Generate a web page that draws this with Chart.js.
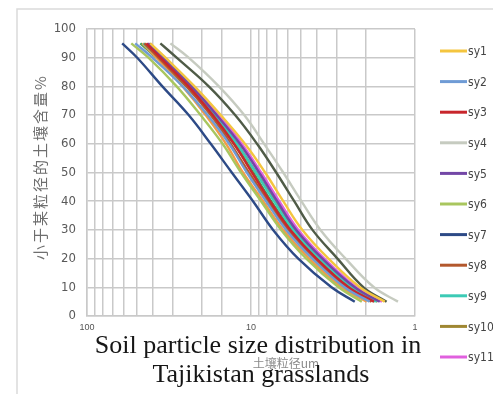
<!DOCTYPE html>
<html>
<head>
<meta charset="utf-8">
<script src="https://cdn.jsdelivr.net/npm/chart.js@4.4.1/dist/chart.umd.min.js"></script>
<style>
  html, body { margin: 0; padding: 0; background: #fff; }
  #wrap { width: 493px; height: 394px; }
</style>
</head>
<body>
<div id="wrap"><canvas id="chart" width="493" height="394"></canvas></div>
<script>
/**
 * Data: percentage of soil finer than a given particle size (um).
 */
const finerLevels = [95, 90, 80, 70, 60, 50, 40, 30, 20, 10, 5];

const sy1 = [41.1, 33.2, 22.1, 15.3, 10.9, 8.20, 6.36, 4.86, 3.37, 2.17, 1.53];
const sy2 = [50.8, 39.9, 26.1, 18.4, 13.6, 10.6, 8.09, 6.10, 4.22, 2.69, 1.89];
const sy3 = [43.5, 35.7, 24.0, 17.1, 12.7, 9.86, 7.65, 5.76, 3.99, 2.54, 1.78];
const sy4 = [31.0, 24.0, 15.7, 11.0, 8.32, 6.36, 4.93, 3.77, 2.65, 1.78, 1.27];
const sy5 = [42.8, 34.7, 23.0, 16.2, 11.7, 8.93, 6.93, 5.30, 3.67, 2.33, 1.64];
const sy6 = [53.7, 42.2, 28.4, 20.3, 14.9, 11.5, 8.68, 6.55, 4.60, 2.92, 2.11];
const sy7 = [61.0, 49.4, 34.7, 24.0, 17.6, 13.1, 9.72, 7.33, 5.15, 3.23, 2.33];
const sy8 = [44.7, 36.7, 24.7, 17.6, 13.3, 10.3, 7.86, 5.93, 4.11, 2.61, 1.84];
const sy9 = [45.3, 36.2, 23.7, 16.6, 12.2, 9.32, 7.23, 5.52, 3.83, 2.43, 1.71];
const sy10 = [41.6, 33.7, 23.3, 16.6, 12.2, 9.32, 7.12, 5.45, 3.77, 2.40, 1.69];
const sy11 = [42.2, 34.2, 22.7, 15.7, 11.4, 8.68, 6.73, 5.15, 3.57, 2.27, 1.59];
const sy12 = [46.0, 37.7, 26.1, 18.9, 14.2, 11.2, 8.44, 6.36, 4.41, 2.80, 1.97];
const sy13 = [35.7, 28.4, 18.1, 12.5, 9.19, 7.02, 5.45, 4.22, 2.97, 2.06, 1.49];
const sy14 = [47.3, 37.7, 24.7, 17.3, 12.7, 9.72, 7.54, 5.68, 3.94, 2.50, 1.76];

const seriesNames = ['sy1', 'sy2', 'sy3', 'sy4', 'sy5', 'sy6', 'sy7', 'sy8', 'sy9', 'sy10', 'sy11', 'sy12', 'sy13', 'sy14'];
const seriesValues = [sy1, sy2, sy3, sy4, sy5, sy6, sy7, sy8, sy9, sy10, sy11, sy12, sy13, sy14];
const seriesColors = ['#f4c53f', '#6f9bd5', '#c8262c', '#c6cbc0', '#7347a6', '#a9c65e', '#2d4a86', '#b3582d',
  '#3ccab5', '#9f8732', '#e060de', '#f29b48', '#4f5b47', '#3f9d56'];

const xTickLabels = [100, 10, 1];
const yTickStep = 10;

const chartTitle = ['Soil particle size distribution in', 'Tajikistan grasslands'];
const xTitle = '土壤粒径um';
const yTitle = '小于某粒径的土壤含量%';
const legendCount = 11;

/**
 * Decorations: frame, legend, titles.
 */
const decor = {
  id: 'decor',
  beforeDraw(chart) {
    const { ctx } = chart;
    ctx.save();
    ctx.fillStyle = '#fff';
    ctx.fillRect(0, 0, chart.width, chart.height);
    ctx.strokeStyle = '#dadada';
    ctx.lineWidth = 1.5;
    ctx.beginPath();
    ctx.moveTo(17, chart.height);
    ctx.lineTo(17, 9);
    ctx.lineTo(chart.width, 9);
    ctx.stroke();
    ctx.restore();
  },
  afterDraw(chart) {
    const { ctx } = chart;
    ctx.save();

    /**
     * Legend (only the items that fit, like the original).
     */
    ctx.font = '12px "Liberation Sans Narrow", "DejaVu Sans Condensed", sans-serif';
    ctx.textBaseline = 'middle';
    ctx.textAlign = 'left';
    for (let i = 0; i < legendCount; i += 1) {
      const y = 51 + i * 30.6;
      ctx.strokeStyle = seriesColors[i];
      ctx.lineWidth = 3;
      ctx.beginPath();
      ctx.moveTo(440, y);
      ctx.lineTo(467, y);
      ctx.stroke();
      ctx.fillStyle = '#444';
      ctx.fillText(seriesNames[i], 468, y + 1);
    }

    /**
     * Y axis title.
     */
    ctx.save();
    ctx.translate(40, 167);
    ctx.rotate(-Math.PI / 2);
    ctx.font = '15px "Noto Sans CJK SC", sans-serif';
    ctx.letterSpacing = '2px';
    ctx.fillStyle = '#6e6e6e';
    ctx.textAlign = 'center';
    ctx.fillText(yTitle, 0, 0);
    ctx.restore();

    /**
     * X axis title.
     */
    ctx.font = '12px "Noto Sans CJK SC", sans-serif';
    ctx.fillStyle = '#8a8a8a';
    ctx.textAlign = 'center';
    ctx.fillText(xTitle, 286, 363);

    /**
     * Main title, drawn over the tick labels.
     */
    ctx.font = '26px "Liberation Serif", "Times New Roman", serif';
    ctx.fillStyle = '#161616';
    ctx.textBaseline = 'alphabetic';
    ctx.fillText(chartTitle[0], 258, 353);
    ctx.fillText(chartTitle[1], 261, 382);
    ctx.restore();
  },
};

const datasets = seriesValues.map((values, i) => ({
  label: seriesNames[i],
  data: values.map((d, j) => ({ x: d, y: finerLevels[j] })),
  borderColor: seriesColors[i],
  backgroundColor: seriesColors[i],
  borderWidth: 2.4,
  pointRadius: 0,
  fill: false,
  tension: 0.4,
}));

const gridColor = '#c9c9c9';

new Chart(document.getElementById('chart'), {
  type: 'line',
  data: { datasets },
  options: {
    responsive: false,
    animation: false,
    devicePixelRatio: 1,
    parsing: false,
    layout: { padding: { top: 29, right: 78, bottom: 0, left: 0 } },
    plugins: {
      legend: { display: false },
      title: { display: false },
      tooltip: { enabled: false },
    },
    scales: {
      x: {
        type: 'logarithmic',
        reverse: true,
        min: 1,
        max: 100,
        afterFit: (scale) => { scale.height = 78; },
        grid: { color: gridColor, lineWidth: 1.5, drawTicks: false },
        border: { color: gridColor, width: 1.5 },
        ticks: {
          autoSkip: false,
          maxRotation: 0,
          padding: 6,
          color: '#555',
          font: { size: 9, family: '"Liberation Sans Narrow", sans-serif' },
          callback: (value) => (xTickLabels.some((t) => Math.abs(t - value) < 1e-6) ? String(value) : ''),
        },
      },
      y: {
        min: 0,
        max: 100,
        afterFit: (scale) => { scale.width = 87; },
        grid: { color: gridColor, lineWidth: 1.5, drawTicks: false },
        border: { color: gridColor, width: 1.5 },
        ticks: {
          stepSize: yTickStep,
          padding: 11,
          color: '#595959',
          font: { size: 13, family: '"Liberation Sans Narrow", "DejaVu Sans Condensed", sans-serif' },
        },
      },
    },
  },
  plugins: [decor],
});
</script>
</body>
</html>
